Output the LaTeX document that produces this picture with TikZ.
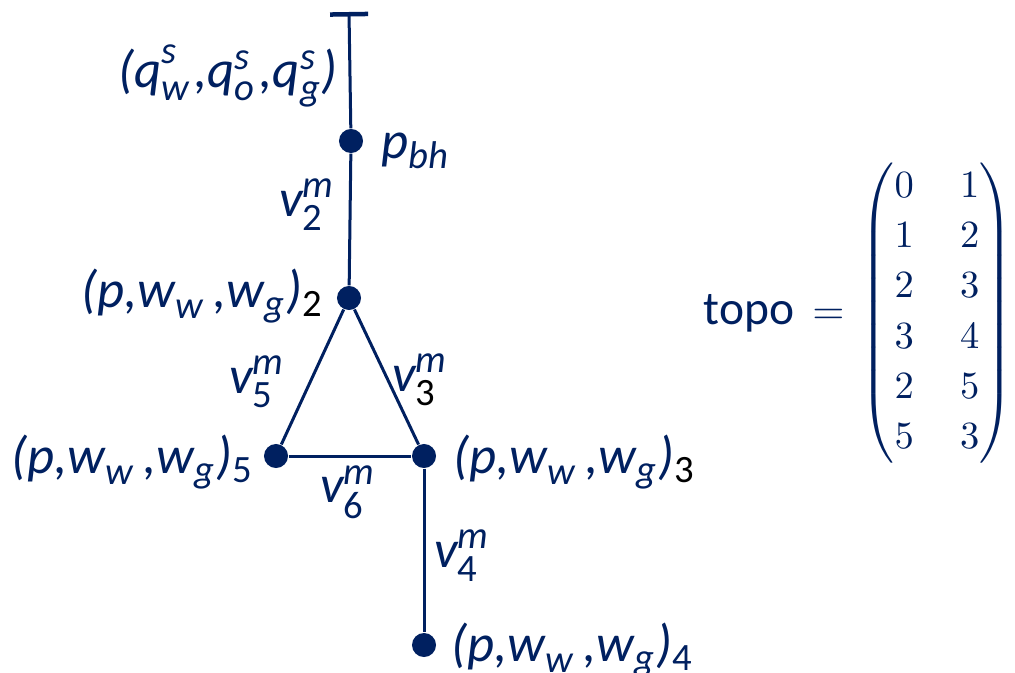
\documentclass[tikz,border=0pt]{standalone}
\usepackage{amsmath}
\usepackage[no-math]{fontspec}
\newfontfamily\calibri{Carlito}
\usetikzlibrary{arrows.meta,positioning}
\definecolor{navy}{RGB}{0,32,96}
\DeclareMathSizes{15}{15}{11}{9}

\newcommand{\tx}[1]{\text{\itshape #1}}
\newcommand{\pww}[1]{$\tx{(p,w}_{\tx{w}}\tx{\,,w}_{\tx{g}}\tx{)}_{\text{#1}}$}
\newcommand{\vm}[1]{$\tx{v}^{\tx{m}}_{\text{#1}}$}

\begin{document}
\begin{tikzpicture}[
        x=0.01cm, y=-0.01cm,
        dot/.style={circle, fill=navy, inner sep=0pt, minimum size=0.24cm},
        pipe/.style={navy, line width=0.03cm},
        % labels in Calibri-like italic
        lbl/.style={inner sep=0pt, text=navy, font=\fontsize{15}{18}\selectfont\calibri}
    ]
    \useasboundingbox (0,0) rectangle (1015,673);

    % --- network nodes ---
    \coordinate (well) at (349,12);
    \node (pbh) at (351,141) [dot] {};
    \node (n2) at (349,298) [dot] {};
    \node (n5) at (276,456) [dot] {};
    \node (n3) at (424,456) [dot] {};
    \node (n4) at (424,645) [dot] {};

    % --- pipes ---
    \draw[pipe, -{Bar[width=0.38cm, line width=0.045cm]}] (pbh) -- (well);
    \draw[pipe] (pbh) -- (n2);
    \draw[pipe] (n2) -- (n5);
    \draw[pipe] (n2) -- (n3);
    \draw[pipe] (n5) -- (n3);
    \draw[pipe] (n3) -- (n4);

    % --- node labels ---
    \node (qsrc) at (228,76) [lbl] {$\tx{(q}^{\tx{s}}_{\tx{w}}\tx{\kern1pt,q}^{\tx{s}}_{\tx{o}}\tx{\kern1pt,q}^{\tx{s}}_{\tx{g}}\tx{)}$};
    \node (pbhlbl) [right=0.17cm of pbh, yshift=-0.1cm, lbl] {$\tx{p}_{\tx{bh}}$};
    \node (lbl2) [left=0.12cm of n2, yshift=0.02cm, lbl] {$\tx{(p,w}_{\tx{w}}\tx{\,,w}_{\tx{g}}\tx{)}_{\text{\color{black}2}}$};
    \node (lbl5) [left=0.09cm of n5, yshift=-0.06cm, lbl] {\pww{5}};
    \node (lbl3) [right=0.16cm of n3, yshift=-0.06cm, lbl] {$\tx{(p,w}_{\tx{w}}\tx{\,,w}_{\tx{g}}\tx{)}_{\text{\color{black}3}}$};
    \node (lbl4) [right=0.14cm of n4, yshift=-0.05cm, lbl] {\pww{4}};

    % --- pipe labels ---
    \node (v2) at (307,205) [lbl] {\vm{2}};
    \node (v5) at (257,382) [lbl] {\vm{5}};
    \node (v3) at (420,380) [lbl] {$\tx{v}^{\tx{m}}_{\text{\color{black}3}}$};
    \node (v6) at (348,492) [lbl] {\vm{6}};
    \node (v4) at (462,556) [lbl] {\vm{4}};

    % --- topology matrix ---
    \node (topomat) at (937,313) [text=navy, inner sep=0pt, font=\fontsize{10.5}{12}\selectfont]
        {\renewcommand\arraystretch{1.19}\setlength\arraycolsep{6.6pt}%
         $\begin{pmatrix} 0 & 1\\ 1 & 2\\ 2 & 3\\ 3 & 4\\ 2 & 5\\ 5 & 3 \end{pmatrix}$};
    \node (topo) [left=0.15cm of topomat, text=navy, inner sep=0pt, font=\fontsize{11.5}{13}\selectfont]
        {{\fontsize{13.5}{16}\selectfont\calibri topo}\hspace{0.18cm}$=$};
\end{tikzpicture}
\end{document}
